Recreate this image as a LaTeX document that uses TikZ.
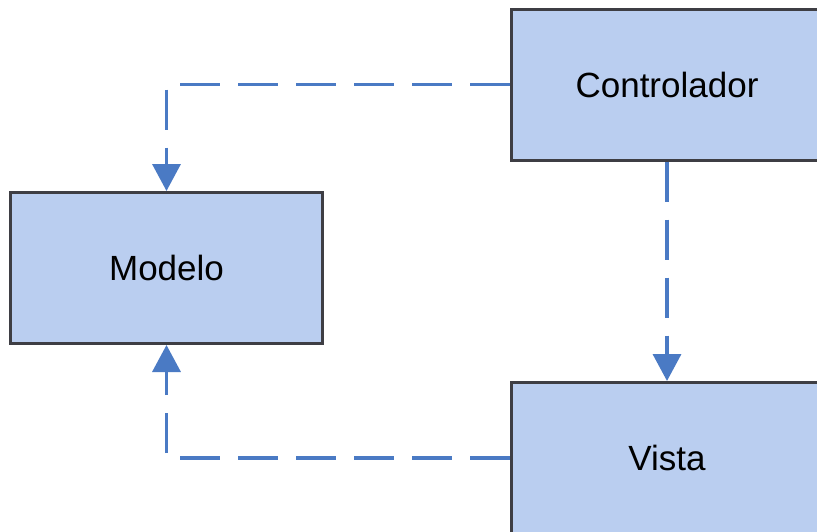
\documentclass[tikz,border=0pt]{standalone}
\usepackage{fontspec}
\setmainfont{Liberation Sans}
\usetikzlibrary{arrows.meta}
\definecolor{boxfill}{HTML}{BACEF0}
\definecolor{boxline}{HTML}{3E3E44}
\definecolor{flow}{HTML}{4A7AC4}
\begin{document}
\begin{tikzpicture}[x=1pt,y=-1pt,
  block/.style={draw=boxline,line width=3pt,fill=boxfill,
    minimum width=312pt,minimum height=151pt,inner sep=0pt,
    font=\fontsize{35}{40}\selectfont},
  flowline/.style={draw=flow,line width=3.5pt,dash pattern=on 40pt off 18pt,
    -{Triangle[width=28pt,length=27pt]}}]
  \useasboundingbox (0,0) rectangle (817,531);
  \clip (0,0) rectangle (817,531);
  \fill[white] (0,0) rectangle (817,531);
  % the three parts of the pattern
  \node[block] (Controlador) at (667,84.5) {Controlador};
  \node[block] (Modelo) at (166.5,268) {Modelo};
  \node[block] (Vista) at (667,458) {Vista};
  % dependencies between them
  \draw[flowline] (Controlador.west) -| (Modelo.north);
  \draw[flowline] (Controlador.south) -- (Vista.north);
  \draw[flowline] (Vista.west) -| (Modelo.south);
\end{tikzpicture}
\end{document}
